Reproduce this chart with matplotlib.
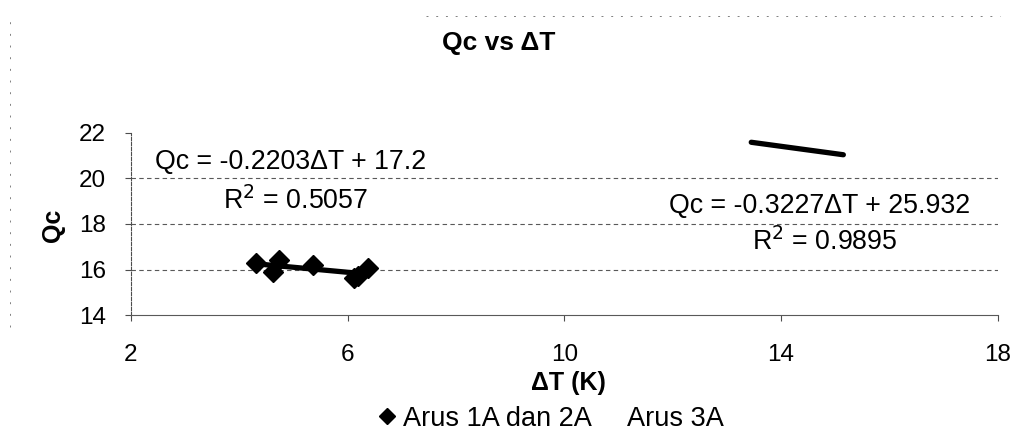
import numpy as np
import matplotlib
matplotlib.use("Agg")
import matplotlib.pyplot as plt
from matplotlib.lines import Line2D

plt.rcParams['font.family'] = ['Liberation Sans', 'DejaVu Sans']

# Arus 1A dan 2A
dt_12 = [4.31, 4.62, 4.73, 5.36, 6.11, 6.20, 6.37]
qc_12 = [16.30, 15.88, 16.40, 16.18, 15.62, 15.72, 16.08]

# Arus 3A (markers not visible in the scan, values estimated along its trend)
dt_3 = [13.45, 13.90, 14.30, 14.70, 15.15]
qc_3 = [21.59, 21.44, 21.31, 21.18, 21.04]

# trendline coefficients as printed on the chart
fit_12 = (-0.2203, 17.2)
fit_3 = (-0.3227, 25.932)

x_ticks = [2, 6, 10, 14, 18]
y_ticks = [14, 16, 18, 20, 22]

fig = plt.figure(figsize=(10.15, 4.36), dpi=100)
ax = fig.add_axes([0.129, 0.2775, 0.854, 0.4175])

ax.plot(dt_12, qc_12, linestyle='none', marker='D', markersize=10.5,
        color='black', zorder=3)
ax.plot(dt_3, qc_3, linestyle='none', marker='none', color='black')

for xs, (m, b) in [(dt_12, fit_12), (dt_3, fit_3)]:
    xx = np.array([min(xs), max(xs)])
    ax.plot(xx, m * xx + b, color='black', lw=3.8, solid_capstyle='round', zorder=4)

ax.text(2.44, 20.73, "Qc = -0.2203ΔT + 17.2", fontsize=19.3, va='center', ha='left')
ax.text(3.70, 19.0, "R$^2$ = 0.5057", fontsize=19.3, va='center', ha='left')
ax.text(11.94, 18.78, "Qc = -0.3227ΔT + 25.932", fontsize=19.3, va='center', ha='left')
ax.text(13.46, 17.23, "R$^2$ = 0.9895", fontsize=19.3, va='center', ha='left')

ax.set_xlim(2, 18)
ax.set_ylim(14, 22)
ax.set_xticks(x_ticks)
ax.set_yticks(y_ticks)
ax.tick_params(axis='both', labelsize=17.5, length=4, width=0.8, color='0.3')
ax.tick_params(axis='x', pad=17)
ax.tick_params(axis='y', pad=14)

for y in [16, 18, 20]:
    ax.axhline(y, color='0.35', lw=0.8, linestyle=(0, (4, 3)), zorder=1)

for side in ['top', 'right']:
    ax.spines[side].set_visible(False)
ax.spines['left'].set_linestyle((0, (3, 1.5)))
ax.spines['left'].set_color('0.3')
ax.spines['bottom'].set_color('0.35')

fig.text(0.491, 0.901, "Qc vs ΔT", fontsize=19, fontweight='bold',
         ha='center', va='center')
fig.text(0.052, 0.484, "Qc", fontsize=18, fontweight='bold', rotation=90,
         ha='center', va='center')
fig.text(0.560, 0.121, "ΔT (K)", fontsize=18, fontweight='bold',
         ha='center', va='center')

handles = [Line2D([], [], linestyle='none', marker='D', markersize=8, color='black'),
           Line2D([], [], linestyle='none', marker='none', color='black')]
fig.legend(handles, ["Arus 1A dan 2A", "Arus 3A"], loc='center',
           bbox_to_anchor=(0.543, 0.04), ncol=2, frameon=False, fontsize=19.5,
           handlelength=0.6, handletextpad=0.3, columnspacing=0.4)

# faint scan border of the chart area
fig.add_artist(Line2D([0.42, 0.985], [0.963, 0.963], color='0.5', lw=0.7,
                      linestyle=(0, (2, 8))))
fig.add_artist(Line2D([0.01, 0.01], [0.25, 0.965], color='0.5', lw=0.7,
                      linestyle=(0, (2, 10))))

fig.savefig("out.png", dpi=100)
